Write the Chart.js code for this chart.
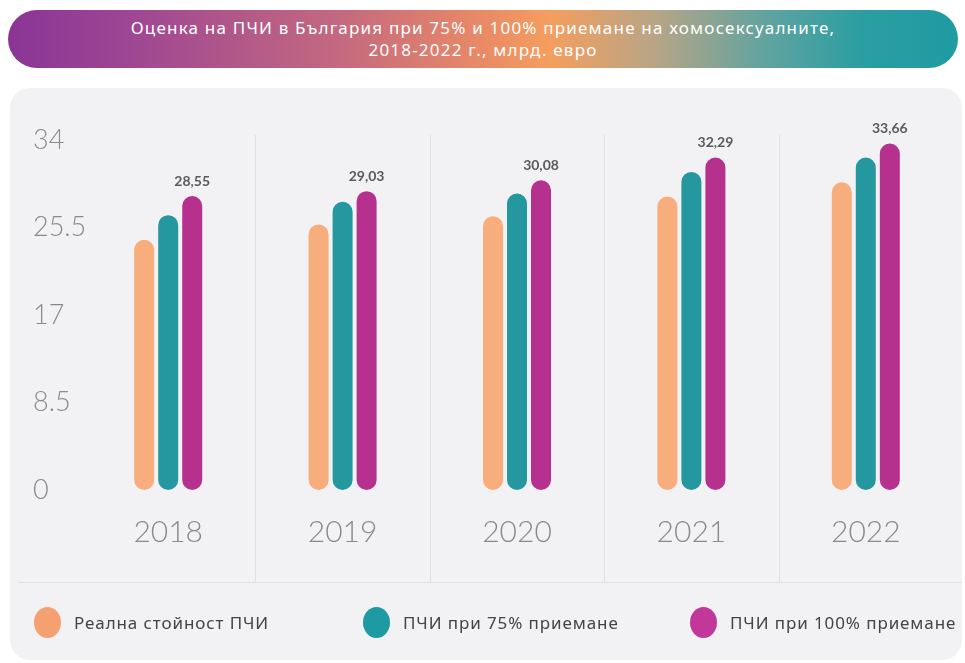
<!DOCTYPE html>
<html lang="bg">
<head>
<meta charset="utf-8">
<script src="https://cdn.jsdelivr.net/npm/chart.js@4.4.1/dist/chart.umd.min.js"></script>
<style>
  html, body { margin:0; padding:0; background:#ffffff; }
  #wrap { position:relative; width:965px; height:663px; overflow:hidden; }
  #panel { position:absolute; left:10px; top:88px; width:952px; height:572px; background:#F2F2F5; border-radius:20px; }
  #title { position:absolute; left:8px; top:10px; width:950px; height:58px; border-radius:29px;
    background: linear-gradient(90deg, #8A3596 0%, #9C4594 12%, #C4697F 35%, #E98A66 50%, #F59E5E 57%, #B8A586 68%, #5FA3A0 80%, #2A9EA2 90%, #1F9BA1 100%);
    color:#ffffff; font-family:"Noto Sans", sans-serif; font-size:17px; letter-spacing:1.2px; line-height:22px; text-align:center;
    display:flex; flex-direction:column; justify-content:center; }
  #chartBox { position:absolute; left:0; top:0; width:965px; height:663px; }
  .leg { position:absolute; top:606px; height:32px; display:flex; align-items:center; white-space:nowrap; font-family:"Noto Sans", sans-serif; font-size:17px; letter-spacing:0.9px; color:#444; }
  .dot { flex:none; width:27px; height:31px; border-radius:50%; margin-right:13px; }
</style>
</head>
<body>
<div id="wrap">
  <div id="panel"></div>
  <div id="title"><div>Оценка на ПЧИ в България при 75% и 100% приемане на хомосексуалните,</div><div>2018-2022 г., млрд. евро</div></div>
  <div id="chartBox"><canvas id="c" width="965" height="663"></canvas></div>
  <div id="legend"></div>
</div>
<script>
const years = ['2018', '2019', '2020', '2021', '2022'];
const seriesNames = ['Реална стойност ПЧИ', 'ПЧИ при 75% приемане', 'ПЧИ при 100% приемане'];
const realValues = [24.3, 25.8, 26.6, 28.5, 29.9];
const values75 = [26.7, 28.0, 28.8, 30.9, 32.3];
const values100 = [28.55, 29.03, 30.08, 32.29, 33.66];
const valueLabels100 = ['28,55', '29,03', '30,08', '32,29', '33,66'];
const yTickValues = [0, 8.5, 17, 25.5, 34];

const barColors = ['#F7AD7C', '#25979F', '#B6318E'];
const legendColors = ['#F5A070', '#1E9BA2', '#C2389A'];
const legendLeft = [34, 363, 690];

// HTML legend
const legendEl = document.getElementById('legend');
seriesNames.forEach((name, i) => {
  const d = document.createElement('div');
  d.className = 'leg';
  d.style.left = legendLeft[i] + 'px';
  d.innerHTML = '<span class="dot" style="background:' + legendColors[i] + '"></span><span>' + name + '</span>';
  legendEl.appendChild(d);
});

const decoPlugin = {
  id: 'deco',
  beforeDatasetsDraw(chart) {
    const ctx = chart.ctx;
    const x = chart.scales.x;
    ctx.save();
    ctx.strokeStyle = '#DEDEE3';
    ctx.lineWidth = 1;
    for (let i = 0; i < years.length - 1; i++) {
      const px = Math.round((x.getPixelForValue(i) + x.getPixelForValue(i + 1)) / 2) + 0.5;
      ctx.beginPath();
      ctx.moveTo(px, 135);
      ctx.lineTo(px, 582);
      ctx.stroke();
    }
    ctx.beginPath();
    ctx.moveTo(18, 582.5);
    ctx.lineTo(962, 582.5);
    ctx.stroke();
    ctx.restore();
  },
  afterDatasetsDraw(chart) {
    const ctx = chart.ctx;
    const meta = chart.getDatasetMeta(2);
    ctx.save();
    ctx.font = 'bold 14px Lato';
    ctx.fillStyle = '#5A5A5A';
    ctx.textAlign = 'center';
    ctx.textBaseline = 'middle';
    meta.data.forEach((el, i) => {
      ctx.fillText(valueLabels100[i], el.x, el.y - 15);
    });
    ctx.restore();
  }
};

new Chart(document.getElementById('c'), {
  type: 'bar',
  data: {
    labels: years,
    datasets: [
      { label: seriesNames[0], data: realValues, backgroundColor: barColors[0] },
      { label: seriesNames[1], data: values75, backgroundColor: barColors[1] },
      { label: seriesNames[2], data: values100, backgroundColor: barColors[2] }
    ]
  },
  options: {
    responsive: false,
    animation: false,
    events: [],
    datasets: {
      bar: {
        categoryPercentage: 0.413,
        barPercentage: 0.833,
        borderRadius: 10,
        borderSkipped: false
      }
    },
    layout: { padding: { left: 81, right: 12, top: 140, bottom: 113 } },
    plugins: { legend: { display: false }, tooltip: { enabled: false } },
    scales: {
      x: {
        grid: { display: false, drawTicks: false },
        border: { display: false },
        ticks: { color: '#8A8A8A', font: { family: 'Lato', size: 30, weight: '300' }, padding: 24 },
        afterFit(scale) { scale.height = 60; }
      },
      y: {
        min: 0,
        max: 34,
        grid: { display: false, drawTicks: false },
        border: { display: false },
        afterBuildTicks(scale) { scale.ticks = yTickValues.map(v => ({ value: v })); },
        ticks: {
          color: '#8A8A8A',
          font: { family: 'Lato', size: 27, weight: '300' },
          mirror: true,
          padding: -48,
          callback: (v) => String(v)
        },
        afterFit(scale) { scale.width = 0; }
      }
    }
  },
  plugins: [decoPlugin]
});
</script>
</body>
</html>
